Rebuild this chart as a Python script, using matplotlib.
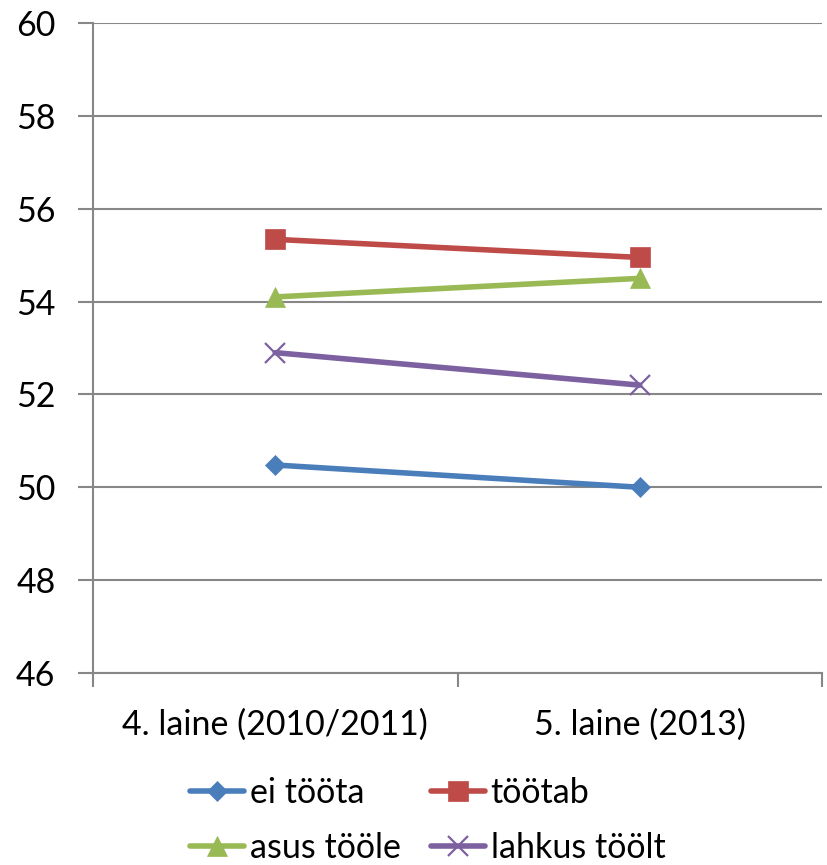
import matplotlib
matplotlib.use("Agg")
import matplotlib.pyplot as plt

plt.rcParams['font.family'] = ['Lato', 'DejaVu Sans']

categories = ["4. laine (2010/2011)", "5. laine (2013)"]
series_names = ["ei tööta", "töötab", "asus tööle", "lahkus töölt"]
ei_toota = [50.48, 50.0]
tootab = [55.34, 54.95]
asus_toole = [54.1, 54.5]
lahkus_toolt = [52.9, 52.2]
y_ticks = [46, 48, 50, 52, 54, 56, 58, 60]

colors = ["#4A7EBB", "#BE4B48", "#98B954", "#7D60A0"]
markers = ["D", "s", "^", "x"]
msizes = [10, 14, 15, 14]
FS = 24.5

fig = plt.figure(figsize=(8.27, 8.65), dpi=100)
ax = fig.add_axes([93 / 827, 1 - 673 / 865, (822 - 93) / 827, (673 - 23) / 865])

x = [0.5, 1.5]
handles = []
for vals, c, m, ms, name in zip([ei_toota, tootab, asus_toole, lahkus_toolt],
                                colors, markers, msizes, series_names):
    h, = ax.plot(x, vals, color=c, lw=4.0, marker=m, markersize=ms,
                 markeredgewidth=1.6 if m == "x" else 0.5,
                 markeredgecolor=c, markerfacecolor=c, zorder=3,
                 solid_capstyle='round', label=name)
    handles.append(h)

ax.set_xlim(0, 2)
ax.set_ylim(46, 60)
ax.set_yticks(y_ticks)
ax.set_yticklabels([str(t) for t in y_ticks], fontsize=FS)
ax.yaxis.grid(True, color="#878787", lw=1.5)
ax.set_axisbelow(True)

ax.set_xticks([0, 1, 2])
ax.set_xticklabels([])
ax.set_xticks(x, minor=True)
ax.set_xticklabels(categories, minor=True, fontsize=FS)
ax.tick_params(axis='x', which='minor', length=0, pad=26)
ax.tick_params(axis='x', which='major', length=10, width=1.5, color="#878787")
ax.tick_params(axis='y', length=11, width=1.5, color="#878787", pad=16)

for s in ["top", "right"]:
    ax.spines[s].set_visible(False)
for s in ["left", "bottom"]:
    ax.spines[s].set_color("#878787")
    ax.spines[s].set_linewidth(1.5)

# legend fills column-wise, so order handles to read row by row
order = [0, 2, 1, 3]
leg = fig.legend(handles=[handles[i] for i in order], loc="lower left",
                 bbox_to_anchor=(190 / 827, 1 / 865), ncol=2,
                 frameon=False, fontsize=FS, handlelength=1.6,
                 handletextpad=0.15, columnspacing=0.9, labelspacing=0.68,
                 borderaxespad=0, borderpad=0)

fig.savefig("out.png", dpi=100)
